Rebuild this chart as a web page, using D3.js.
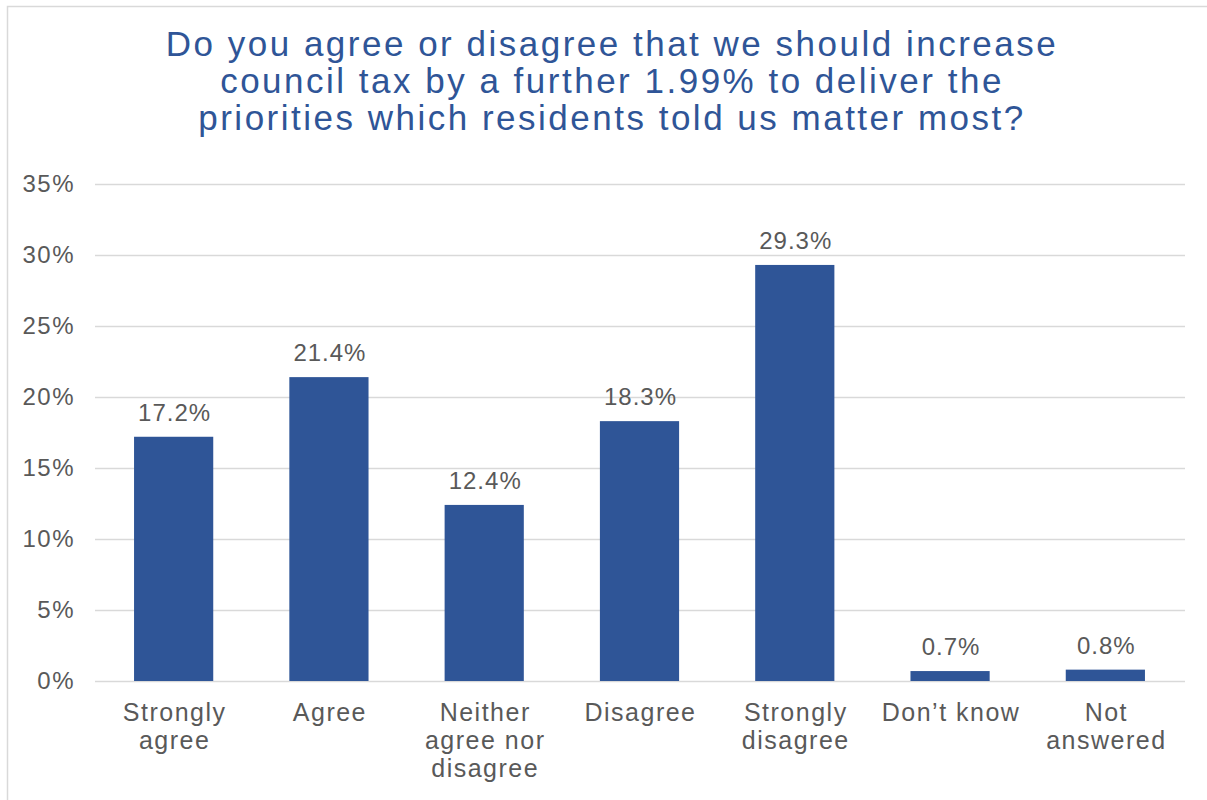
<!DOCTYPE html>
<html>
<head>
<meta charset="utf-8">
<script src="https://cdn.jsdelivr.net/npm/d3@7"></script>
<style>
  body { margin: 0; background: #fff; }
  text { font-family: "Liberation Sans", Arial, Helvetica, sans-serif; }
</style>
</head>
<body>
<script>
// chart data
var categories = [["Strongly", "agree"], ["Agree"], ["Neither", "agree nor", "disagree"],
                  ["Disagree"], ["Strongly", "disagree"], ["Don\u2019t know"], ["Not", "answered"]];
var values = [17.2, 21.4, 12.4, 18.3, 29.3, 0.7, 0.8];
var yTicks = [0, 5, 10, 15, 20, 25, 30, 35];
var titleLines = ["Do you agree or disagree that we should increase",
                  "council tax by a further 1.99% to deliver the",
                  "priorities which residents told us matter most?"];

var width = 1207, height = 800;
var svg = d3.select("body").append("svg")
    .attr("width", width)
    .attr("height", height);

// chart frame
svg.append("rect")
    .attr("x", 7.5).attr("y", 6.5)
    .attr("width", width + 10).attr("height", height + 10)
    .attr("fill", "#fff")
    .attr("stroke", "#d9d9d9")
    .attr("stroke-width", 1.5);

// title
svg.append("text")
    .attr("x", 611)
    .attr("text-anchor", "middle")
    .attr("fill", "#2f5597")
    .style("font-size", "35px")
    .style("letter-spacing", "2.5px")
    .selectAll("tspan")
    .data(titleLines)
    .enter().append("tspan")
      .attr("x", 612)
      .attr("y", function(d, i) { return 56 + i * 37; })
      .text(function(d) { return d; });

var x = d3.scaleBand()
    .domain(d3.range(categories.length))
    .range([96, 1183])
    .paddingInner(0.49)
    .paddingOuter(0.245);

var y = d3.scaleLinear()
    .domain([0, 35])
    .range([681, 184]);

// gridlines + y labels
var yAxis = d3.axisLeft(y)
    .tickValues(yTicks)
    .tickSize(-1090)
    .tickPadding(20)
    .tickFormat(function(d) { return d + "%"; });

var gy = svg.append("g")
    .attr("transform", "translate(95,0)")
    .call(yAxis);
gy.select(".domain").remove();
gy.selectAll(".tick line")
    .attr("stroke", "#d9d9d9")
    .attr("stroke-width", 1.5);
gy.selectAll(".tick text")
    .attr("fill", "#595959")
    .style("font-size", "24px")
    .style("letter-spacing", "1.5px")
    .style("font-family", "'Liberation Sans', Arial, sans-serif");

// bars
svg.selectAll(".bar")
    .data(values)
    .enter().append("rect")
      .attr("class", "bar")
      .attr("x", function(d, i) { return x(i); })
      .attr("width", x.bandwidth())
      .attr("y", function(d) { return y(d); })
      .attr("height", function(d) { return y(0) - y(d); })
      .attr("fill", "#2f5597");

// value labels
svg.selectAll(".val")
    .data(values)
    .enter().append("text")
      .attr("class", "val")
      .attr("x", function(d, i) { return x(i) + x.bandwidth() / 2 + 1; })
      .attr("y", function(d) { return y(d) - 16; })
      .attr("text-anchor", "middle")
      .attr("fill", "#595959")
      .style("font-size", "24px")
      .style("letter-spacing", "1px")
      .text(function(d) { return d.toFixed(1) + "%"; });

// category labels
var cat = svg.selectAll(".cat")
    .data(categories)
    .enter().append("text")
      .attr("class", "cat")
      .attr("text-anchor", "middle")
      .attr("fill", "#595959")
      .style("font-size", "25px")
      .style("letter-spacing", "1.5px");

cat.selectAll("tspan")
    .data(function(d, i) { return d.map(function(s) { return { s: s, i: i }; }); })
    .enter().append("tspan")
      .attr("x", function(d) { return x(d.i) + x.bandwidth() / 2 + 1; })
      .attr("y", function(d, j) { return 721 + j * 28; })
      .text(function(d) { return d.s; });
</script>
</body>
</html>
